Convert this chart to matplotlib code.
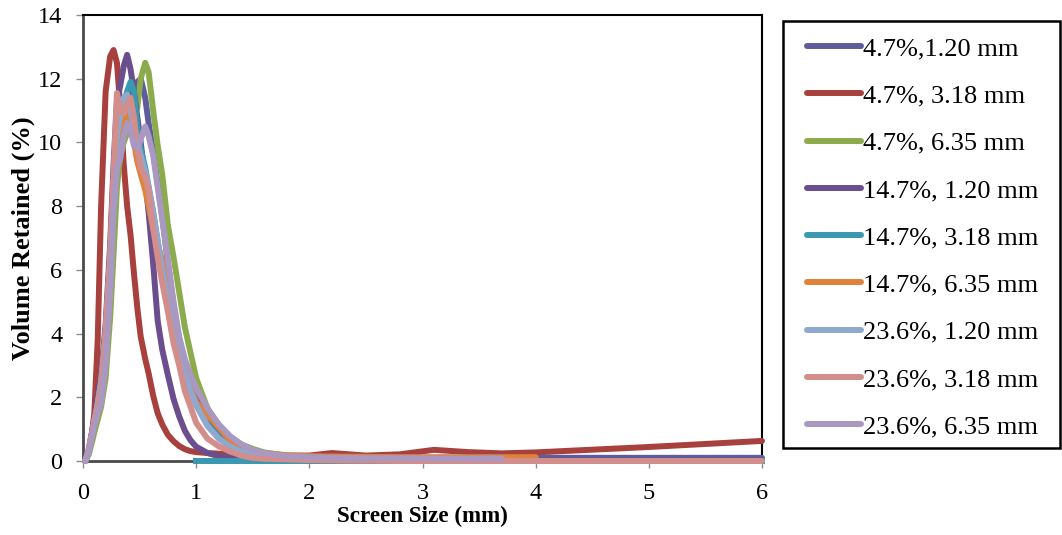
import matplotlib
matplotlib.use("Agg")
import matplotlib.pyplot as plt
import numpy as np
from matplotlib.patches import Rectangle

plt.rcParams['font.family'] = ['Liberation Serif', 'DejaVu Serif']

# screen sizes (mm) shared by all series
screen = [0.02, 0.05, 0.08, 0.10, 0.13, 0.16, 0.20, 0.24, 0.27, 0.30, 0.33, 0.36,
          0.39, 0.42, 0.45, 0.48, 0.51, 0.55, 0.58, 0.62, 0.66, 0.70, 0.75, 0.80,
          0.85, 0.90, 0.95, 1.00, 1.10, 1.20, 1.30, 1.40, 1.50, 1.60, 1.80, 2.00,
          2.20, 2.50, 2.80, 3.10, 3.40, 3.70, 4.00, 5.00, 6.00]

nan = np.nan
v47_120 = [0, 0.3, 0.9, 1.3, 1.9, 2.6, 4.0, 6.4, 8.9, 11.0, 11.4, 11.2,
           11.3, 11.6, 11.7, 11.9, 12.0, 11.4, 10.6, 9.7, 8.7, 7.7, 6.2, 4.9,
           3.8, 3.0, 2.45, 2.0, 1.3, 0.88, 0.6, 0.4, 0.3, 0.22, 0.15, 0.12,
           0.11, 0.1, 0.1, 0.1, 0.1, 0.1, 0.1, 0.1, 0.1]
v47_318 = [0, 0.3, 0.9, 1.5, 3.8, 8.0, 11.6, 12.7, 12.9, 12.5, 11.1, 9.3,
           8.0, 7.1, 5.9, 4.8, 3.9, 3.2, 2.75, 2.05, 1.5, 1.15, 0.82, 0.62,
           0.47, 0.37, 0.31, 0.28, 0.25, 0.23, 0.21, 0.2, 0.2, 0.19, 0.17, 0.17,
           0.25, 0.17, 0.21, 0.35, 0.28, 0.24, 0.27, 0.44, 0.63]
v47_635 = [0, 0.2, 0.6, 0.9, 1.3, 1.7, 2.6, 4.5, 6.5, 8.6, 9.6, 10.0,
           10.3, 10.6, 10.8, 11.1, 12.0, 12.5, 12.2, 11.0, 9.9, 9.0, 7.4, 6.4,
           5.3, 4.2, 3.4, 2.6, 1.65, 1.1, 0.75, 0.52, 0.38, 0.27, 0.17, 0.12,
           0.1, 0.08, 0.07, 0.06, 0.06, 0.05, nan, nan, nan]
v147_120 = [0, 0.3, 0.9, 1.3, 2.0, 2.7, 4.3, 6.8, 9.3, 11.3, 11.8, 12.4,
            12.75, 12.3, 11.6, 10.8, 10.0, 8.8, 7.8, 6.2, 4.4, 3.5, 2.7, 1.95,
            1.4, 0.95, 0.65, 0.45, 0.25, 0.15, 0.1, 0.07, 0.05, 0.04, 0.03, 0.02,
            0.01, 0.01, nan, nan, nan, nan, nan, nan, nan]
v147_318 = [0, 0.3, 0.8, 1.2, 1.8, 2.5, 3.9, 6.2, 8.5, 10.0, 10.8, 11.2,
            11.6, 11.9, 11.6, 10.5, 9.8, 9.2, 8.6, 7.8, 6.9, 5.9, 4.9, 4.0,
            3.3, 2.7, 2.2, 1.8, 1.15, 0.75, 0.5, 0.33, 0.22, 0.15, 0.08, 0.05,
            nan, nan, nan, nan, nan, nan, nan, nan, nan]
v147_635 = [0, 0.3, 0.8, 1.2, 1.8, 2.4, 3.8, 6.0, 8.2, 9.6, 10.3, 10.8,
            10.9, 10.6, 10.0, 9.4, 9.0, 8.5, 8.0, 7.3, 6.8, 6.3, 5.4, 4.4,
            3.4, 2.8, 2.3, 1.85, 1.45, 1.05, 0.65, 0.45, 0.32, 0.25, 0.18, 0.15,
            0.14, 0.13, 0.12, 0.12, 0.12, 0.12, 0.12, nan, nan]
v236_120 = [0, 0.3, 0.8, 1.2, 1.8, 2.5, 4.0, 6.3, 8.7, 10.2, 10.9, 11.4,
            11.5, 11.0, 10.5, 10.0, 9.6, 9.1, 8.6, 7.8, 6.9, 6.0, 5.0, 4.1,
            3.4, 2.75, 2.2, 1.75, 1.1, 0.7, 0.45, 0.3, 0.2, 0.14, 0.08, 0.05,
            0.03, 0.02, nan, nan, nan, nan, nan, nan, nan]
v236_318 = [0, 0.4, 0.9, 1.3, 1.7, 2.3, 4.1, 6.5, 9.0, 11.55, 11.0, 10.9,
            11.2, 11.4, 10.8, 9.8, 9.2, 8.9, 8.5, 7.3, 6.4, 5.6, 4.7, 3.7,
            3.0, 2.2, 1.7, 1.2, 0.7, 0.46, 0.3, 0.17, 0.1, 0.07, 0.05, 0.03,
            0.02, 0.01, 0, 0, 0, 0, 0, 0, 0]
v236_635 = [0, 0.3, 0.8, 1.1, 1.5, 1.8, 3.0, 5.3, 7.8, 9.2, 9.5, 10.2,
            10.6, 10.4, 9.9, 9.8, 10.1, 10.5, 10.2, 9.6, 8.6, 7.6, 6.3, 5.0,
            3.9, 3.2, 2.7, 2.3, 1.65, 1.15, 0.78, 0.52, 0.35, 0.25, 0.15, 0.12,
            0.1, 0.09, 0.09, 0.08, 0.08, 0.08, nan, nan, nan]

# 14.7%, 3.18 mm also runs flat along zero past 1 mm
base_x = [1.0, 6.0]
base_y = [0, 0]

labels = ['4.7%,1.20 mm', '4.7%, 3.18 mm', '4.7%, 6.35 mm',
          '14.7%, 1.20 mm', '14.7%, 3.18 mm', '14.7%, 6.35 mm',
          '23.6%, 1.20 mm', '23.6%, 3.18 mm', '23.6%, 6.35 mm']
series = [v47_120, v47_318, v47_635, v147_120, v147_318, v147_635,
          v236_120, v236_318, v236_635]
colors = ['#5E5C9C', '#A8403D', '#8CAB4C', '#6A4E8E', '#3A98B0',
          '#E0823A', '#8EA8CF', '#D38E8C', '#A898C2']

fig = plt.figure(figsize=(10.62, 5.35), dpi=100)
ax = fig.add_axes([83 / 1062, 74 / 535, 679 / 1062, 446 / 535])

handles = []
for i in range(len(series)):
    h, = ax.plot(screen, series[i], color=colors[i], lw=4.3,
                 solid_capstyle='round', solid_joinstyle='round',
                 clip_on=False, zorder=3 + i * 0.1)
    if i == 4:
        ax.plot(base_x, base_y, color=colors[i], lw=4.3, clip_on=False,
                zorder=3 + i * 0.1)
    handles.append(h)

ax.set_xlim(0, 6)
ax.set_ylim(0, 14)
ax.set_xticks(range(0, 7))
ax.set_yticks(range(0, 15, 2))
ax.tick_params(axis='both', direction='out', length=5, width=1,
               color='#8c8c8c', labelsize=17.5, labelcolor='black')
ax.tick_params(axis='y', pad=10)
ax.tick_params(axis='x', pad=11)

for s in ['left', 'bottom']:
    ax.spines[s].set_color('#4a4a4a')
    ax.spines[s].set_linewidth(2)
for s in ['top', 'right']:
    ax.spines[s].set_color('black')
    ax.spines[s].set_linewidth(1.5)

ax.set_xlabel('Screen Size (mm)', fontsize=16.6, fontweight='bold')
ax.set_ylabel('Volume Retained (%)', fontsize=19, fontweight='bold')
ax.xaxis.set_label_coords(0.5, -0.1)
ax.yaxis.set_label_coords(-0.071, 0.5)

fig.patches.append(Rectangle((783 / 1062, 87 / 535), 277 / 1062, 427 / 535,
                             transform=fig.transFigure, fill=False,
                             edgecolor='black', lw=1.8))
fig.legend(handles, labels, loc='upper left',
           bbox_to_anchor=(807 / 1062, (535 - 37) / 535),
           frameon=False, fontsize=19, handlelength=2.05, handletextpad=0.08,
           labelspacing=0.9, borderpad=0, borderaxespad=0)

fig.savefig('out.png', dpi=100)
